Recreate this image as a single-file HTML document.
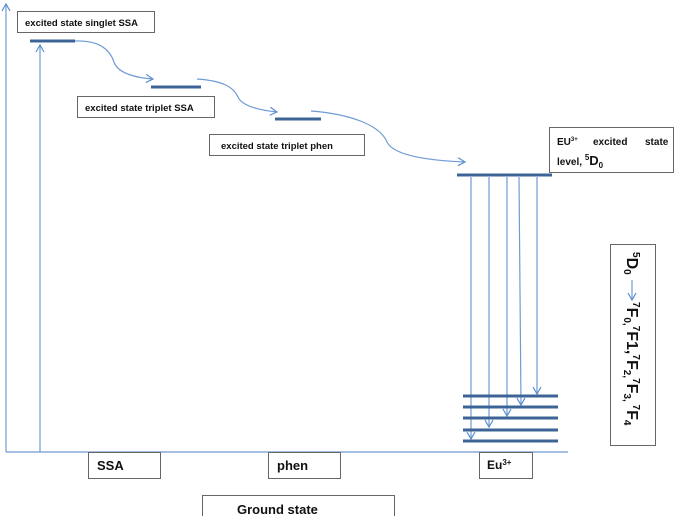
<!DOCTYPE html>
<html><head><style>
body{margin:0;background:#fff;}
svg{display:block;font-family:"Liberation Sans",sans-serif;font-weight:bold;}
</style></head><body>
<svg width="685" height="516" viewBox="0 0 685 516" xmlns="http://www.w3.org/2000/svg">
<defs><marker id="a" markerWidth="10" markerHeight="10" refX="8" refY="5" orient="auto" markerUnits="userSpaceOnUse"><path d="M1,1 L8,5 L1,9" fill="none" stroke="#5b8fd0" stroke-width="1.2"/></marker></defs>
<g stroke="#6f9bd4" stroke-width="1.2" fill="none">
<line x1="6" y1="452" x2="6" y2="4" marker-end="url(#a)"/>
<line x1="6" y1="452" x2="568" y2="452"/>
<line x1="40" y1="452" x2="40" y2="45" marker-end="url(#a)"/>
<path d="M75,41 C100,40 110,50 114,62 C118,74 138,78 153,79" marker-end="url(#a)"/>
<path d="M197,79 C225,81 234,88 238,97 C242,106 258,110 277,112" marker-end="url(#a)"/>
<path d="M311,111 C350,114 380,125 387,142 C395,158 440,161 465,162" marker-end="url(#a)"/>
<line x1="471" y1="177" x2="471" y2="439" marker-end="url(#a)"/>
<line x1="489" y1="177" x2="489" y2="427" marker-end="url(#a)"/>
<line x1="507" y1="177" x2="507" y2="416" marker-end="url(#a)"/>
<line x1="519" y1="177" x2="521" y2="405" marker-end="url(#a)"/>
<line x1="537" y1="177" x2="537" y2="394" marker-end="url(#a)"/>
</g>
<g stroke="#3d6496" stroke-width="3">
<line x1="30" y1="41" x2="75" y2="41"/>
<line x1="151" y1="87" x2="201" y2="87"/>
<line x1="275" y1="119" x2="321" y2="119"/>
<line x1="457" y1="175" x2="552" y2="175"/>
<line x1="463" y1="396" x2="558" y2="396"/>
<line x1="463" y1="407" x2="558" y2="407"/>
<line x1="463" y1="418" x2="558" y2="418"/>
<line x1="463" y1="430" x2="558" y2="430"/>
<line x1="463" y1="441" x2="558" y2="441"/>
</g>
<g fill="#fff" stroke="#666" stroke-width="1">
<rect x="17.5" y="11.5" width="137" height="21"/>
<rect x="77.5" y="96.5" width="137" height="21"/>
<rect x="209.5" y="134.5" width="155" height="21"/>
<rect x="549.5" y="127.5" width="124" height="45"/>
<rect x="610.5" y="244.5" width="45" height="201"/>
<rect x="88.5" y="452.5" width="72" height="26"/>
<rect x="268.5" y="452.5" width="72" height="26"/>
<rect x="479.5" y="452.5" width="53" height="26"/>
<rect x="202.5" y="495.5" width="192" height="24"/>
</g>
<g font-size="9.5" fill="#111">
<text x="25" y="26">excited state singlet SSA</text>
<text x="85" y="111">excited state triplet SSA</text>
<text x="221" y="149">excited state triplet phen</text>
<text x="557" y="145" font-size="10">EU<tspan font-size="6" dy="-4">3+</tspan><tspan dy="4" x="593">excited</tspan><tspan x="645">state</tspan></text>
<text x="557" y="165" font-size="10">level, <tspan font-size="8" dy="-5">5</tspan><tspan font-size="13" dy="5">D</tspan><tspan font-size="8" dy="3">0</tspan></text>
<text x="97" y="470" font-size="13">SSA</text>
<text x="277" y="470" font-size="13">phen</text>
<text x="487" y="469" font-size="12">Eu<tspan font-size="8" dy="-4">3+</tspan></text>
<text x="237" y="514" font-size="13">Ground state</text>
<g transform="translate(627,252) rotate(90)" font-size="16">
<text x="0" y="0"><tspan font-size="10" dy="-6">5</tspan><tspan dy="6">D</tspan><tspan font-size="10" dy="3">0</tspan></text>
<line x1="28" y1="-5" x2="48" y2="-5" stroke="#6f9bd4" stroke-width="1.2" marker-end="url(#a)"/>
<text x="50" y="0"><tspan font-size="10" dy="-6">7</tspan><tspan dy="6">F</tspan><tspan font-size="10" dy="3">0,</tspan><tspan font-size="10" dy="-9">7</tspan><tspan dy="6">F1,</tspan><tspan font-size="10" dy="-6">7</tspan><tspan dy="6">F</tspan><tspan font-size="10" dy="3">2,</tspan><tspan font-size="10" dy="-9">7</tspan><tspan dy="6">F</tspan><tspan font-size="10" dy="3">3,</tspan><tspan font-size="10" dy="-9"> 7</tspan><tspan dy="6">F</tspan><tspan font-size="10" dy="3">4</tspan></text>
</g>
</g>
</svg>
</body></html>
